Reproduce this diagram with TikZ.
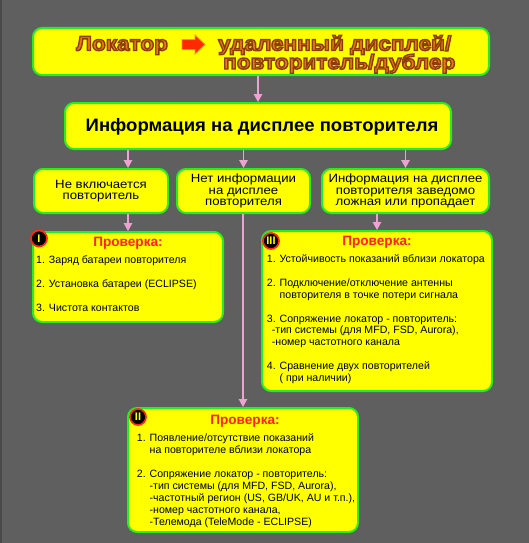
\documentclass[tikz,border=0pt]{standalone}
\usepackage{fontspec}
\setmainfont{Liberation Sans}
\newfontfamily\ttlfont[FakeStretch=1.1]{Liberation Sans}
\newfontfamily\widefont[FakeStretch=1.1]{Liberation Sans}
\newfontfamily\infofont[FakeStretch=1.03]{Liberation Sans}
\usetikzlibrary{arrows.meta,calc}
\definecolor{bg}{HTML}{5F5F5F}
\definecolor{bgedge}{HTML}{4A4A4A}
\definecolor{boxyel}{HTML}{FFFF00}
\definecolor{boxgrn}{HTML}{22EE22}
\definecolor{arrpink}{HTML}{EBA3CF}
\definecolor{arrred}{HTML}{FF2A00}
\definecolor{arrorange}{HTML}{FF8A20}
\definecolor{chkred}{HTML}{FF2020}
\definecolor{badgered}{HTML}{FF2A10}
% orange text with a dark brown outline (PDF text render mode 2: fill and stroke)
\newcommand\ttlfx[1]{\special{pdf:literal direct 0.91 0.47 0.12 rg 0.55 0.24 0.02 RG 2 Tr 1.4 w}#1\special{pdf:literal direct 0 Tr 0 g 0 G}}
\begin{document}
\begin{tikzpicture}[x=1pt,y=-1pt,
  box/.style={draw=boxgrn,line width=2pt,fill=boxyel,rounded corners=9pt,inner sep=0pt},
  arr/.style={draw=arrpink,line width=1.3pt,-{Triangle[width=8.5pt,length=8pt,fill=arrpink]}},
  badge/.style={circle,fill=black,draw=badgered,line width=1.7pt,minimum size=16pt,inner sep=0pt,text=boxyel,font=\bfseries\fontsize{11}{11}\selectfont},
  small/.style={font=\widefont\fontsize{12}{11.7}\selectfont,align=center},
  item/.style={font=\fontsize{10.6}{11.9}\selectfont,align=left,anchor=north west,inner sep=0pt},
  chk/.style={text=chkred,font=\bfseries\fontsize{13.6}{13.6}\selectfont,inner sep=0pt,anchor=base},
  ttl/.style={font=\ttlfont\bfseries\fontsize{20.5}{20.5}\selectfont,inner sep=0pt,anchor=base west}
]
\useasboundingbox (0,0) rectangle (529,543);
\fill[bg] (0,0) rectangle (529,543);
\fill[bgedge] (0,0) rectangle (2,543);

% title
\node[box,minimum width=456pt,minimum height=47pt] (top) at (261,51.5) {};
\node[ttl] (loc) at (76,50.5) {\ttlfx{Локатор}};
\node[ttl] (rem1) at (218,50.5) {\ttlfx{удаленный дисплей/}};
\node[ttl] (rem2) at (223,69) {\ttlfx{повторитель/дублер}};
\filldraw[fill=arrred,draw=arrorange,line width=0.8pt] (182,39.5) -- (195,39.5) -- (195,35) -- (205,44.5) -- (195,54) -- (195,49.5) -- (182,49.5) -- cycle;

% info
\node[box,minimum width=386pt,minimum height=46pt] (info) at (258,126) {};
\node[font=\infofont\bfseries\fontsize{18}{18}\selectfont,anchor=base,inner sep=0pt] (infotxt) at (262,131.5) {Информация на дисплее повторителя};

% second row
\node[box,small,minimum width=134pt,minimum height=44pt] (A) at (101,191) {Не включается\\повторитель};
\node[box,small,minimum width=133pt,minimum height=44pt] (B) at (243.5,191) {Нет информации\\на дисплее\\повторителя};
\node[box,small,minimum width=167pt,minimum height=44pt] (C) at (405.5,191) {Информация на дисплее\\повторителя заведомо\\ложная или пропадает};

% check boxes
\node[box,minimum width=190pt,minimum height=90pt] (I) at (128,277) {};
\node[box,minimum width=230pt,minimum height=160pt] (III) at (377,311) {};
\node[box,minimum width=230pt,minimum height=124pt] (II) at (243,470) {};

\node[badge] (b1) at (39,238.5) {I};
\node[badge] (b3) at (271,241) {III};
\node[badge] (b2) at (138,417) {II};

\node[chk] (c1) at (128,246) {Проверка:};
\node[chk] (c3) at (377,245.7) {Проверка:};
\node[chk] (c2) at (245,424.3) {Проверка:};

\node[item] (t1) at (36,253.3) {\rule{0pt}{10pt}1. Заряд батареи повторителя\\[11.9pt]
2. Установка батареи (ECLIPSE)\\[11.9pt]
3. Чистота контактов};

\node[item] (t3) at (266.7,252.3) {\rule{0pt}{10pt}1. Устойчивость показаний вблизи локатора\\[11.9pt]
2. Подключение/отключение антенны\\
\phantom{1. }повторителя в точке потери сигнала\\[11.9pt]
3. Сопряжение локатор - повторитель:\\
\hspace*{5pt}-тип системы (для MFD, FSD, Aurora),\\
\hspace*{5pt}-номер частотного канала\\[11.9pt]
4. Сравнение двух повторителей\\
\phantom{1. }( при наличии)};

\node[item] (t2) at (136.7,431.7) {\rule{0pt}{10pt}1. Появление/отсутствие показаний\\
\phantom{1. }на повторителе вблизи локатора\\[11.9pt]
2. Сопряжение локатор - повторитель:\\
\phantom{1. }-тип системы (для MFD, FSD, Aurora),\\
\phantom{1. }-частотный регион (US, GB/UK, AU и т.п.),\\
\phantom{1. }-номер частотного канала,\\
\phantom{1. }-Телемода (TeleMode - ECLIPSE)};

% connectors
\draw[arr] (top.south -| info.north) -- (info.north);
\draw[arr] (info.south -| I.north) -- (A.north -| I.north);
\draw[arr] (info.south -| B.north) -- (B.north);
\draw[arr] (info.south -| C.north) -- (C.north);
\draw[arr] (A.south -| I.north) -- (I.north);
\draw[arr] (B.south -| II.north) -- (II.north);
\draw[arr] (C.south -| III.north) -- (III.north);
\end{tikzpicture}
\end{document}
